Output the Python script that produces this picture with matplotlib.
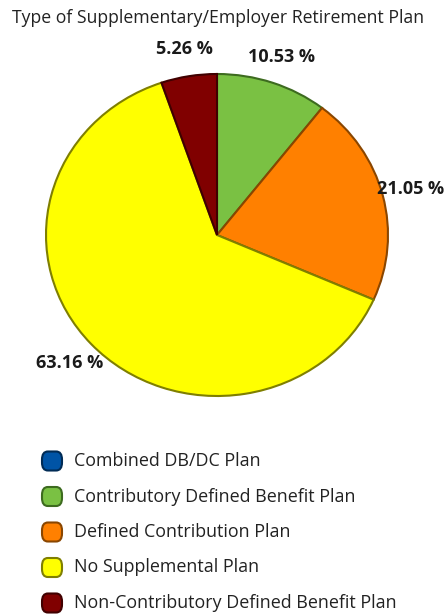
import matplotlib.pyplot as plt
from matplotlib.patches import FancyBboxPatch

# plan types and number of respondents
plans = ['Combined DB/DC Plan', 'Contributory Defined Benefit Plan',
         'Defined Contribution Plan', 'No Supplemental Plan',
         'Non-Contributory Defined Benefit Plan']
counts = [0, 2, 4, 12, 1]
colors = ['#0054A6', '#7AC143', '#FF8000', '#FFFF00', '#800000']
edges = ['#002B55', '#3D6B1F', '#8A4600', '#7F7F00', '#400000']

plt.rcParams['font.family'] = ['Open Sans', 'DejaVu Sans']

fig = plt.figure(figsize=(4.48, 6.16), dpi=100)
W, H = 448, 616

fig.text(218 / W, 1 - 18 / H, 'Type of Supplementary/Employer Retirement Plan',
         ha='center', va='center', fontsize=12.7, color='#222222')

# pie area (slightly wider than tall)
ax = fig.add_axes([46 / W, 1 - 396 / H, 342 / W, 322 / H])

# only non-empty slices are drawn on the pie
idx = [i for i, c in enumerate(counts) if c > 0]
vals = [counts[i] for i in idx]

wedges, _, autotexts = ax.pie(
    vals, colors=[colors[i] for i in idx], startangle=90, counterclock=False,
    autopct=lambda p: '%.2f %%' % p, pctdistance=1.17,
    wedgeprops=dict(linewidth=1.5),
    textprops=dict(fontsize=13, fontweight='bold', color='#1a1a1a'))
for w, i in zip(wedges, idx):
    w.set_edgecolor(edges[i])
ax.set_aspect('auto')
ax.set_xlim(-1, 1)
ax.set_ylim(-1, 1)
for t in autotexts:
    t.set_clip_on(False)

# legend with rounded swatches
y0 = 461
for k, name in enumerate(plans):
    y = y0 + k * 35.5
    box = FancyBboxPatch((42 / W, 1 - (y + 9.5) / H), 20 / W, 19 / H,
                         boxstyle='round,pad=0,rounding_size=0.013',
                         transform=fig.transFigure, facecolor=colors[k],
                         edgecolor=edges[k], linewidth=1.5)
    fig.patches.append(box)
    fig.text(74 / W, 1 - y / H, name, ha='left', va='center',
             fontsize=12.9, color='#222222')

fig.savefig('out.png', dpi=100)
